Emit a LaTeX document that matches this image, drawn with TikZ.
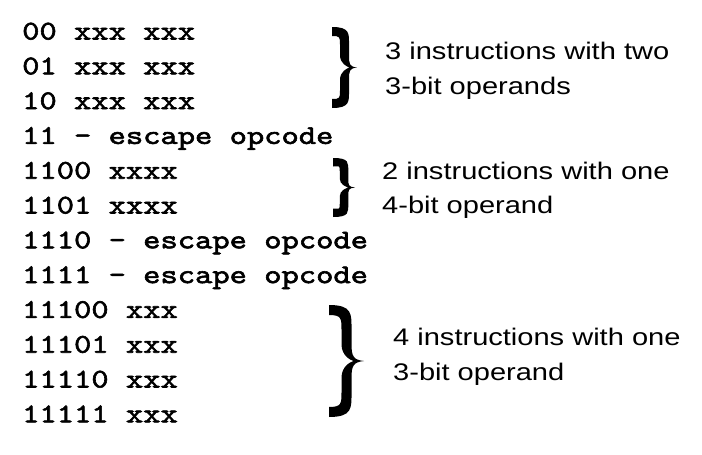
\documentclass[tikz,border=0pt]{standalone}
\usepackage{fontspec}
\setmainfont{Liberation Sans}
\newfontfamily\monof[FakeBold=2.2,FakeStretch=1.22]{lmmono10-regular.otf}
\newfontfamily\sansf[FakeStretch=1.21]{Liberation Sans}
\newcommand\drawbrace[5]{%
  \pgfmathsetmacro\bxa{#1}\pgfmathsetmacro\bya{#2}%
  \pgfmathsetmacro\bxb{#3}\pgfmathsetmacro\byb{#4}\pgfmathsetmacro\bt{#5}%
  \pgfmathsetmacro\bh{\byb-\bya}\pgfmathsetmacro\bw{\bxb-\bxa}%
  \pgfmathsetmacro\bxs{\bxa+0.5*\bw}\pgfmathsetmacro\bym{(\bya+\byb)/2}%
  \pgfmathsetmacro\bro{\bxs+\bt/2}\pgfmathsetmacro\bri{\bxs-\bt/2}%
  \fill[bracefill] (\bxa,\bya)
    .. controls (\bro+1,\bya) and (\bro,\bya+0.08*\bh) .. (\bro,\bya+0.22*\bh)
    -- (\bro,\bym-0.15*\bh)
    .. controls (\bro,\bym-0.04*\bh) and (\bxb-0.3*\bw,\bym-0.01*\bh) .. (\bxb,\bym)
    .. controls (\bxb-0.3*\bw,\bym+0.01*\bh) and (\bro,\bym+0.04*\bh) .. (\bro,\bym+0.15*\bh)
    -- (\bro,\byb-0.22*\bh)
    .. controls (\bro,\byb-0.08*\bh) and (\bro+1,\byb) .. (\bxa,\byb)
    -- (\bxa,\byb-1.0*\bt)
    .. controls (\bri,\byb-1.0*\bt) and (\bri,\byb-0.12*\bh) .. (\bri,\byb-0.22*\bh)
    -- (\bri,\bym+0.15*\bh)
    .. controls (\bri,\bym+0.05*\bh) and (\bxs+0.1*\bw,\bym+0.01*\bh) .. (\bxs+0.2*\bw,\bym)
    .. controls (\bxs+0.1*\bw,\bym-0.01*\bh) and (\bri,\bym-0.05*\bh) .. (\bri,\bym-0.15*\bh)
    -- (\bri,\bya+0.22*\bh)
    .. controls (\bri,\bya+0.12*\bh) and (\bri,\bya+1.0*\bt) .. (\bxa,\bya+1.0*\bt)
    -- cycle;%
}
\begin{document}
\begin{tikzpicture}[x=1pt,y=-1pt,
  code/.style={anchor=base west,inner sep=0pt,font=\monof\fontsize{27}{27}\selectfont},
  note/.style={anchor=base west,inner sep=0pt,font=\sansf\fontsize{24}{24}\selectfont},
  bracefill/.style={fill=black}]
\useasboundingbox[fill=white] (0,0) rectangle (702,455);
\node[code] (c1)  at (22,39.5)  {00 xxx xxx};
\node[code] (c2)  at (22,74.3)  {01 xxx xxx};
\node[code] (c3)  at (22,109.1) {10 xxx xxx};
\node[code] (c4)  at (22,143.9) {11 - escape opcode};
\node[code] (c5)  at (22,178.7) {1100 xxxx};
\node[code] (c6)  at (22,213.5) {1101 xxxx};
\node[code] (c7)  at (22,248.3) {1110 - escape opcode};
\node[code] (c8)  at (22,283.1) {1111 - escape opcode};
\node[code] (c9)  at (22,317.9) {11100 xxx};
\node[code] (c10) at (22,352.7) {11101 xxx};
\node[code] (c11) at (22,387.5) {11110 xxx};
\node[code] (c12) at (22,422.3) {11111 xxx};
\drawbrace{332}{27}{357}{108}{9}
\drawbrace{333}{158}{355}{217}{8.5}
\drawbrace{329}{305}{364}{417}{10}
\node[note] (n1a) at (385,59.3)  {3 instructions with two};
\node[note] (n1b) at (385,94)    {3-bit operands};
\node[note] (n2a) at (382,179.3) {2 instructions with one};
\node[note] (n2b) at (382,213.5) {4-bit operand};
\node[note] (n3a) at (393,345)   {4 instructions with one};
\node[note] (n3b) at (393,380.5) {3-bit operand};
\end{tikzpicture}
\end{document}
